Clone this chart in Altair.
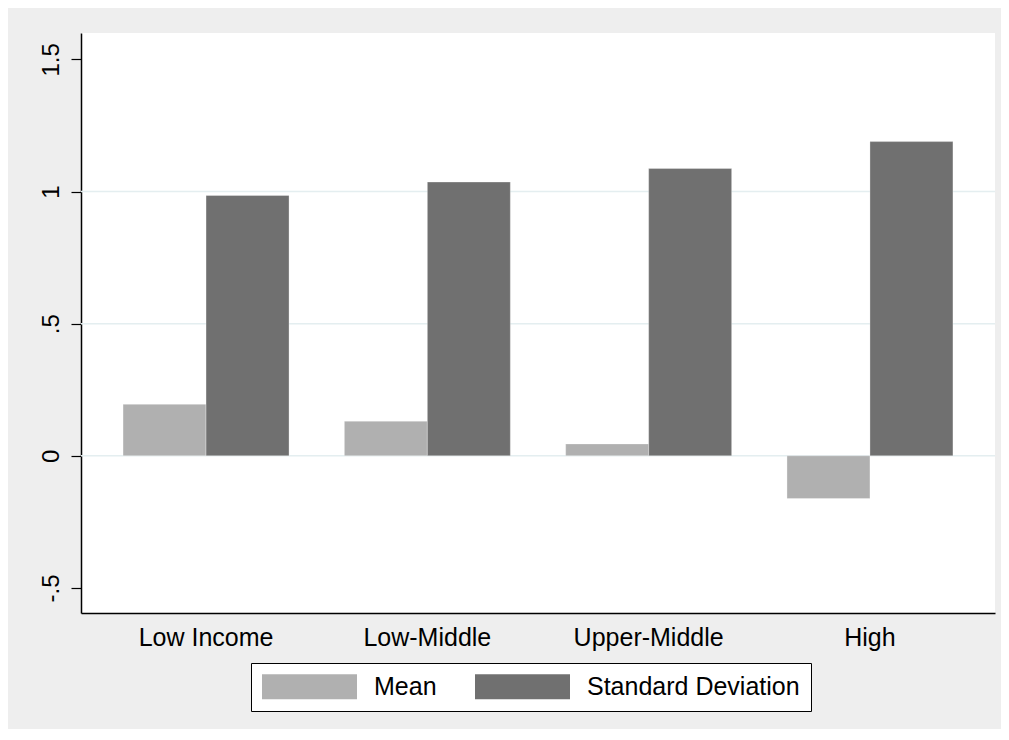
import altair as alt
import pandas as pd

categories = ["Low Income", "Low-Middle", "Upper-Middle", "High"]
mean_values = [0.195, 0.131, 0.045, -0.162]
sd_values = [0.985, 1.036, 1.087, 1.189]
series_names = ["Mean", "Standard Deviation"]
series_colors = ["#b0b0b0", "#707070"]
y_ticks = [-0.5, 0, 0.5, 1, 1.5]
y_tick_labels = ["-.5", "0", ".5", "1", "1.5"]
grid_values = [0, 0.5, 1]

rows = []
for c, m, s in zip(categories, mean_values, sd_values):
    rows.append({"group": c, "series": series_names[0], "value": m})
    rows.append({"group": c, "series": series_names[1], "value": s})
df = pd.DataFrame(rows)
grid_df = pd.DataFrame({"value": grid_values})

label_expr = " : ".join(
    f"datum.value == {v} ? '{l}'" for v, l in zip(y_ticks, y_tick_labels)
) + " : datum.label"

FONT = "Liberation Sans"
yscale = alt.Scale(domain=[-0.595, 1.6], nice=False, zero=False)
yaxis = alt.Axis(
    title=None, values=y_ticks, labelExpr=label_expr, labelAngle=270,
    labelAlign="center", labelBaseline="bottom", labelPadding=8,
    tickSize=10, tickColor="#000000", tickWidth=1.2,
    labelFont=FONT, labelFontSize=24, labelColor="#000000",
    domainColor="#000000", domainWidth=1.5, grid=False,
)

grid = alt.Chart(grid_df).mark_rule(color="#e4eef0", strokeWidth=1.5).encode(
    y=alt.Y("value:Q", scale=yscale, axis=yaxis)
)

bars = alt.Chart(df).mark_bar(
    stroke="#ffffff", strokeOpacity=0.3, strokeWidth=1
).encode(
    x=alt.X(
        "group:N",
        sort=categories,
        scale=alt.Scale(paddingInner=0.25, paddingOuter=0.19),
        axis=alt.Axis(
            title=None, labelAngle=0, ticks=False, labelPadding=12,
            labelFont=FONT, labelFontSize=25, labelColor="#000000",
            domainColor="#000000", domainWidth=1.5, grid=False,
        ),
    ),
    xOffset=alt.XOffset(
        "series:N", sort=series_names,
        scale=alt.Scale(paddingInner=0, paddingOuter=0),
    ),
    y=alt.Y("value:Q", stack=None, scale=yscale, axis=yaxis),
    color=alt.Color(
        "series:N",
        scale=alt.Scale(domain=series_names, range=series_colors),
        legend=alt.Legend(
            title=None, orient="none", legendX=170, legendY=630,
            direction="horizontal",
            symbolType="M-1,-1H6.6V1H-1Z", symbolSize=625,
            symbolStrokeWidth=0, symbolOpacity=1,
            labelFont=FONT, labelFontSize=25, labelColor="#000000",
            labelLimit=400, labelOffset=87, columnPadding=38,
            padding=11, strokeColor="#000000", fillColor="#ffffff",
        ),
    ),
)

chart = alt.layer(grid, bars).properties(
    width=914,
    height=580,
    padding={"left": 73, "top": 25, "right": 6, "bottom": 116},
    autosize=alt.AutoSizeParams(type="none"),
    background="#eeeeee",
).configure_view(fill="#ffffff", stroke=None)

chart.save("out.html", embed_options={"renderer": "svg", "actions": False})
